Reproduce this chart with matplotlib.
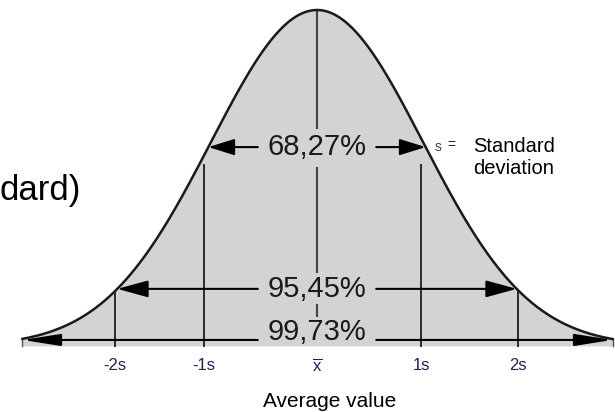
import numpy as np
import matplotlib
matplotlib.use('Agg')
import matplotlib.pyplot as plt

plt.rcParams['font.family'] = ['Liberation Sans', 'DejaVu Sans']
plt.rcParams['mathtext.fontset'] = 'custom'
plt.rcParams['mathtext.rm'] = 'Liberation Sans'

# x in units of s (mean = 0), heights relative to the peak
tick_pos = [-1.96, -1.10, 0.0, 1.01, 1.95]
tick_labels = ['-2s', '-1s', r'$\overline{\mathrm{x}}$', '1s', '2s']
curve_range = [-2.86, 2.87]
sigma = 1.03
one_s_top = 0.54

pct_labels = ['68,27%', '95,45%', '99,73%']
pct_text_y = [0.592, 0.170, 0.042]
pct_arrow_y = [0.592, 0.170, 0.018]
pct_gap = 0.575                       # half-width of the hole for the label
head_len = [0.8, 0.95, 1.15]
head_wid = [0.25, 0.26, 0.18]

center_segments = [(0.65, 1.0), (0.22, 0.53), (0.09, 0.122)]

fill_c = '#d3d3d3'
line_c = '#1a1a1a'
tick_c = '#1c2450'


def curve(x):
    return np.exp(-0.5 * (np.asarray(x) / sigma) ** 2)


fig = plt.figure(figsize=(6.15, 4.12), dpi=100)
ax = fig.add_axes([0, 0, 1, 1])
ax.set_xlim(-317 / 103, (615 - 317) / 103)
ax.set_ylim(-(412 - 346) / 336, 1 + 10 / 336)
ax.axis('off')

xs = np.linspace(curve_range[0], curve_range[1], 600)
ys = curve(xs)
ax.fill_between(xs, 0, ys, color=fill_c, lw=0, zorder=1)
ax.plot([xs[0], xs[0]], [0, ys[0]], color='#555555', lw=1.0, zorder=2)
ax.plot([xs[-1], xs[-1]], [0, ys[-1]], color='#555555', lw=1.0, zorder=2)
ax.plot(xs, ys, color=line_c, lw=1.8, zorder=4)

# vertical lines at the s positions
for p in tick_pos:
    if p == 0:
        continue
    top = one_s_top if abs(p) < 1.5 else float(curve(p))
    ax.plot([p, p], [0, top], color='#2b2b2b', lw=1.4, zorder=2)
for lo, hi in center_segments:
    ax.plot([0, 0], [lo, hi], color='#444444', lw=1.5, zorder=2)

# percentage labels with arrows
for lab, ty, ay, hl, hw in zip(pct_labels, pct_text_y, pct_arrow_y, head_len, head_wid):
    ax.text(0, ty, lab, ha='center', va='center', fontsize=21, color='#1a1a1a', zorder=5)
    xt = sigma * np.sqrt(-2 * np.log(ay))
    for side, end in ((-1, curve_range[0]), (1, curve_range[1])):
        tip = side * xt
        tip = max(tip, end) if side < 0 else min(tip, end)
        ax.annotate('', xy=(tip, ay), xytext=(side * pct_gap, ay),
                    arrowprops=dict(arrowstyle=f'-|>,head_length={hl},head_width={hw}',
                                    color='black', lw=1.5, shrinkA=0, shrinkB=0,
                                    mutation_scale=20), zorder=5)

# axis labels
for p, lab in zip(tick_pos, tick_labels):
    ax.text(p, -0.0595, lab, ha='center', va='center', fontsize=12, color=tick_c)
ax.text(0.126, -0.164, 'Average value', ha='center', va='center', fontsize=15, color='black')

# legend for s
ax.text(1.175, 0.592, 's', ha='center', va='center', fontsize=10, color='#3a3f6a')
ax.text(1.30, 0.597, '=', ha='center', va='center', fontsize=10, color='#222222')
ax.text(1.515, 0.56, 'Standard\ndeviation', ha='left', va='center', fontsize=14.5,
        color='black', linespacing=1.2)

# clipped heading from the surrounding page
ax.text(-2.29, 0.434, 'dard)', ha='right', va='baseline', fontsize=25, color='black')

fig.savefig('out.png', dpi=100)
